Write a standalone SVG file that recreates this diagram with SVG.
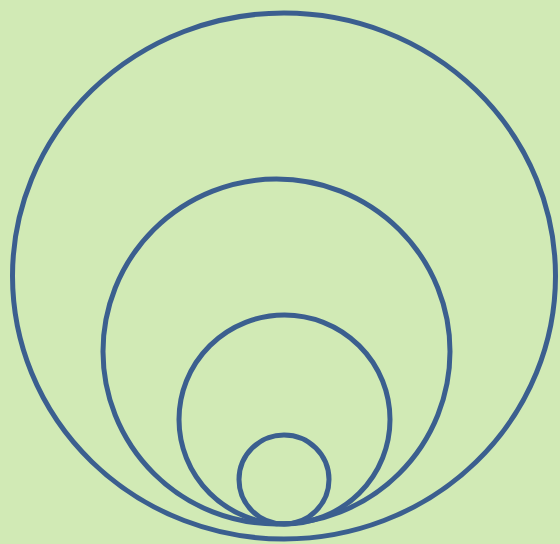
<svg xmlns="http://www.w3.org/2000/svg" width="560" height="544" viewBox="0 0 560 544">
<style>
.c{fill:none;stroke:#3b5f8f;stroke-width:5}
</style>
<rect width="560" height="544" fill="#d1eab5"/>
<g id="outer"><ellipse class="c" cx="284" cy="276" rx="271.5" ry="263"/></g>
<g id="second"><ellipse class="c" cx="276.5" cy="351.5" rx="173.5" ry="172.5"/></g>
<g id="third"><ellipse class="c" cx="284.5" cy="419.5" rx="105.5" ry="104.5"/></g>
<g id="fourth"><ellipse class="c" cx="284" cy="479.5" rx="45" ry="44.5"/></g>
</svg>
